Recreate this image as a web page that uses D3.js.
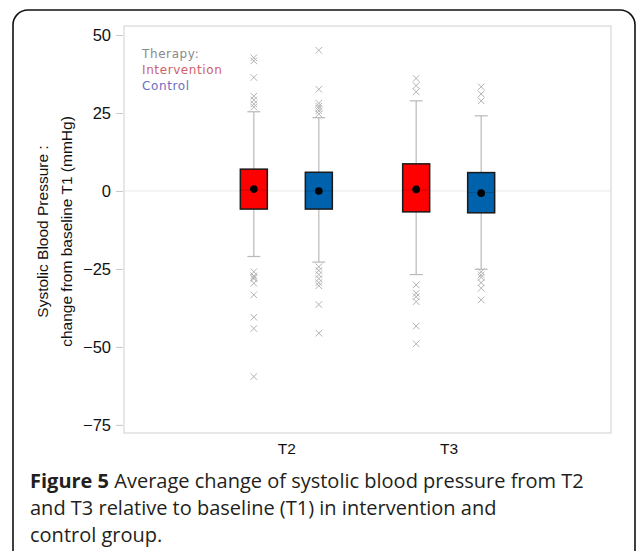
<!DOCTYPE html>
<html>
<head>
<meta charset="utf-8">
<script src="https://cdn.jsdelivr.net/npm/d3@7"></script>
<style>
  html, body { margin: 0; padding: 0; background: #fff; }
  svg { display: block; }
</style>
</head>
<body>
<div id="chart"></div>
<script>
// ---- Data ----
const categories = ["T2", "T3"];
const groups = ["Intervention", "Control"];
const groupColors = ["#ff0000", "#0062ad"];
const legendColors = ["#d2606b", "#6d6dc4"];
const yTicks = [50, 25, 0, -25, -50, -75];

// one entry per box: T2-Intervention, T2-Control, T3-Intervention, T3-Control
const boxCategory = ["T2", "T2", "T3", "T3"];
const boxGroup = ["Intervention", "Control", "Intervention", "Control"];
const boxQ1 = [-5.8, -5.8, -6.7, -7.0];
const boxQ3 = [7.0, 6.0, 8.7, 5.9];
const boxMedian = [0.3, 0.0, 0.3, -0.5];
const boxMean = [0.6, 0.0, 0.5, -0.7];
const whiskerLow = [-21.0, -22.8, -26.8, -25.1];
const whiskerHigh = [25.4, 23.5, 28.9, 24.1];
const outliers = [
  [42.7, 41.7, 36.4, 30.4, 29.2, 27.9, 26.9, -25.9, -27.2, -27.7, -28.1, -29.6, -33.3, -40.5, -44.1, -59.5],
  [45.1, 32.6, 28.1, 27.2, 26.5, 25.7, 24.7, -24.3, -25.5, -26.8, -28.1, -29.4, -30.4, -36.4, -45.6],
  [36.1, 33.8, 31.8, -30.1, -32.8, -33.9, -35.5, -43.3, -49.0],
  [33.4, 31.1, 28.9, -25.9, -26.9, -27.7, -29.4, -31.2, -34.9]
];

// ---- Layout ----
const W = 637, H = 551;
const plot = { left: 124, top: 26, right: 611, bottom: 433 };

const svg = d3.select("#chart").append("svg")
  .attr("width", W).attr("height", H);

// card border
svg.append("rect")
  .attr("x", 13).attr("y", 10)
  .attr("width", 622).attr("height", 580)
  .attr("rx", 15).attr("ry", 15)
  .attr("fill", "#fff").attr("stroke", "#111").attr("stroke-width", 1.6);

const y = d3.scaleLinear().domain([-77.6, 52.9]).range([plot.bottom, plot.top]);
const x = d3.scalePoint().domain(categories).range([plot.left, plot.right]).padding(1);
const xg = d3.scaleBand().domain(groups).range([-65, 65]);
const boxW = 27;

// zero reference line
svg.append("line")
  .attr("x1", plot.left).attr("x2", plot.right)
  .attr("y1", y(0)).attr("y2", y(0))
  .attr("stroke", "#e9e9e9").attr("stroke-width", 1);

// frame
svg.append("rect")
  .attr("x", plot.left).attr("y", plot.top)
  .attr("width", plot.right - plot.left).attr("height", plot.bottom - plot.top)
  .attr("fill", "none").attr("stroke", "#cfcfcf").attr("stroke-width", 1);

// y axis
const yAxis = d3.axisLeft(y).tickValues(yTicks).tickSize(7).tickPadding(5)
  .tickFormat(d3.format("d"));
const gy = svg.append("g").attr("transform", `translate(${plot.left - 1},0)`).call(yAxis);
gy.select(".domain").remove();
gy.selectAll(".tick line").attr("stroke", "#c8c8c8");
gy.selectAll(".tick text")
  .attr("font-family", "Liberation Sans, Arial, sans-serif")
  .attr("font-size", 16.5).attr("fill", "#111")
  .text(d => d < 0 ? "\u2212" + Math.abs(d) : d);

// x axis labels
const xAxis = d3.axisBottom(x).tickSize(0).tickPadding(10);
const gx = svg.append("g").attr("transform", `translate(0,${plot.bottom})`).call(xAxis);
gx.select(".domain").remove();
gx.selectAll(".tick text")
  .attr("font-family", "Liberation Sans, Arial, sans-serif")
  .attr("font-size", 15.5).attr("fill", "#111");

// y axis title
const yMid = (plot.top + plot.bottom) / 2 + 2;
const ytitle = svg.append("text")
  .attr("transform", `translate(48,${yMid}) rotate(-90)`)
  .attr("text-anchor", "middle")
  .attr("font-family", "Liberation Sans, Arial, sans-serif")
  .attr("font-size", 15.5).attr("fill", "#111");
ytitle.append("tspan").attr("x", 0).attr("dy", 0).text("Systolic Blood Pressure :");
ytitle.append("tspan").attr("x", 0).attr("dy", 24).text("change from baseline T1 (mmHg)");

// boxes
const boxes = boxQ1.map((d, i) => i);
const gBox = svg.append("g");
boxes.forEach(i => {
  const cx = x(boxCategory[i]) + xg(boxGroup[i]) + xg.bandwidth() / 2;
  const col = groupColors[groups.indexOf(boxGroup[i])];
  const g = gBox.append("g");
  // whiskers
  g.append("line").attr("x1", cx).attr("x2", cx)
    .attr("y1", y(boxQ3[i])).attr("y2", y(whiskerHigh[i]))
    .attr("stroke", "#b9b9b9").attr("stroke-width", 1.2);
  g.append("line").attr("x1", cx).attr("x2", cx)
    .attr("y1", y(boxQ1[i])).attr("y2", y(whiskerLow[i]))
    .attr("stroke", "#b9b9b9").attr("stroke-width", 1.2);
  [whiskerHigh[i], whiskerLow[i]].forEach(v => {
    g.append("line").attr("x1", cx - 6.5).attr("x2", cx + 6.5)
      .attr("y1", y(v)).attr("y2", y(v))
      .attr("stroke", "#b9b9b9").attr("stroke-width", 1.2);
  });
  // outliers
  outliers[i].forEach(v => {
    const yy = y(v), s = 3.3;
    g.append("path")
      .attr("d", `M${cx - s},${yy - s}L${cx + s},${yy + s}M${cx - s},${yy + s}L${cx + s},${yy - s}`)
      .attr("stroke", "#b3b3b3").attr("stroke-width", 1).attr("fill", "none");
  });
  // box
  g.append("rect")
    .attr("x", cx - boxW / 2).attr("y", y(boxQ3[i]))
    .attr("width", boxW).attr("height", y(boxQ1[i]) - y(boxQ3[i]))
    .attr("fill", col).attr("stroke", "#1a1a1a").attr("stroke-width", 1.5);
  // median
  g.append("line").attr("x1", cx - boxW / 2).attr("x2", cx + boxW / 2)
    .attr("y1", y(boxMedian[i])).attr("y2", y(boxMedian[i]))
    .attr("stroke", "rgba(0,0,0,0.18)").attr("stroke-width", 1);
  // mean
  g.append("circle").attr("cx", cx).attr("cy", y(boxMean[i])).attr("r", 3.8).attr("fill", "#000");
});

// legend
const legend = svg.append("g").attr("transform", "translate(142,58)")
  .attr("font-family", "DejaVu Sans, sans-serif").attr("font-size", 12);
legend.append("text").attr("x", 0).attr("y", 0).attr("fill", "#8a8a8a").attr("letter-spacing", 0.6).text("Therapy:");
groups.forEach((gname, i) => {
  legend.append("text").attr("x", 0).attr("y", 16 * (i + 1))
    .attr("fill", legendColors[i]).attr("letter-spacing", 0.6).text(gname);
});

// caption
const cap = svg.append("text")
  .attr("font-family", "Open Sans, Noto Sans, sans-serif")
  .attr("font-size", 20).attr("fill", "#231f20");
const l1 = cap.append("tspan").attr("x", 30).attr("y", 488);
l1.append("tspan").attr("font-weight", "bold").text("Figure 5");
l1.append("tspan").text(" Average change of systolic blood pressure from T2");
cap.append("tspan").attr("x", 30).attr("y", 515).text("and T3 relative to baseline (T1) in intervention and");
cap.append("tspan").attr("x", 30).attr("y", 542).text("control group.");
</script>
</body>
</html>
